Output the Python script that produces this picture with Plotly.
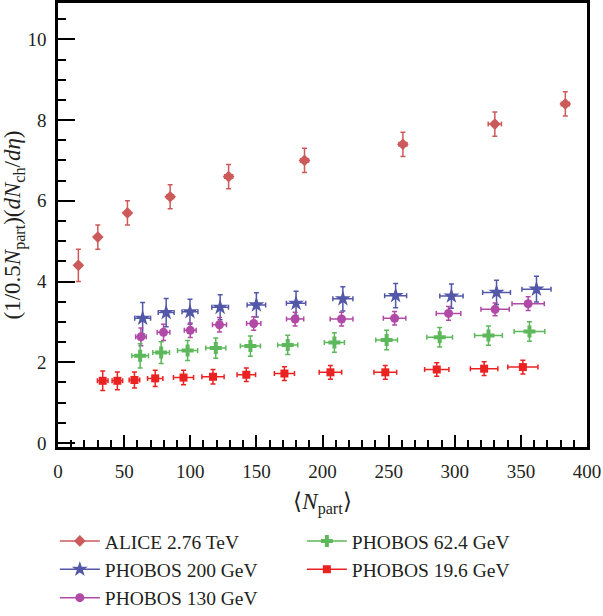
import plotly.graph_objects as go

# ---------------- data ----------------
alice_x = [15.4, 30.1, 52.5, 84.8, 129.0, 186.4, 260.8, 330.3, 383.6]
alice_y = [4.4, 5.1, 5.7, 6.1, 6.6, 7.0, 7.4, 7.9, 8.4]
alice_xerr = [0.6, 1.3, 2.0, 2.6, 3.0, 3.0, 3.0, 5.0, 3.0]
alice_yerr = [0.4, 0.3, 0.3, 0.3, 0.3, 0.3, 0.3, 0.3, 0.3]

p200_x = [64.0, 81.8, 99.8, 122.6, 150.0, 180.0, 215.4, 255.3, 297.5, 331.6, 361.8]
p200_y = [3.09, 3.23, 3.25, 3.36, 3.42, 3.46, 3.57, 3.65, 3.64, 3.73, 3.81]
p200_xerr = [6.0, 6.0, 6.0, 6.3, 7.0, 7.3, 7.6, 8.3, 8.8, 10.5, 11.0]
p200_yerr = [0.39, 0.35, 0.31, 0.31, 0.30, 0.30, 0.30, 0.30, 0.30, 0.30, 0.32]

p130_x = [62.7, 79.8, 100.0, 122.1, 148.0, 179.3, 214.4, 254.5, 295.3, 330.5, 355.5]
p130_y = [2.63, 2.74, 2.79, 2.93, 2.96, 3.07, 3.07, 3.09, 3.21, 3.31, 3.45]
p130_xerr = [4.0, 4.8, 4.5, 5.3, 5.4, 6.5, 8.6, 8.5, 9.3, 10.7, 12.2]
p130_yerr = [0.22, 0.20, 0.18, 0.18, 0.17, 0.17, 0.17, 0.17, 0.17, 0.16, 0.17]

p62_x = [62.1, 78.0, 98.0, 119.3, 145.5, 173.7, 209.0, 248.5, 288.6, 325.5, 356.5]
p62_y = [2.16, 2.24, 2.29, 2.35, 2.40, 2.43, 2.49, 2.55, 2.62, 2.66, 2.76]
p62_xerr = [6.3, 6.3, 7.6, 7.6, 7.6, 7.6, 7.6, 8.2, 9.7, 10.5, 11.6]
p62_yerr = [0.30, 0.27, 0.25, 0.25, 0.25, 0.24, 0.24, 0.24, 0.24, 0.24, 0.24]

p19_x = [33.8, 44.9, 57.8, 73.5, 94.9, 117.2, 142.4, 171.2, 206.0, 247.5, 286.4, 322.2, 351.5]
p19_y = [1.54, 1.54, 1.56, 1.60, 1.62, 1.64, 1.69, 1.72, 1.75, 1.75, 1.82, 1.84, 1.88]
p19_xerr = [4.0, 4.0, 4.0, 5.8, 7.6, 8.4, 7.0, 7.6, 8.5, 8.6, 9.2, 10.4, 11.4]
p19_yerr = [0.24, 0.22, 0.20, 0.20, 0.18, 0.18, 0.17, 0.17, 0.17, 0.17, 0.17, 0.17, 0.17]

x_ticks = [0, 50, 100, 150, 200, 250, 300, 350, 400]
y_ticks = [0, 2, 4, 6, 8, 10]

series = [
    # name, x, y, xerr, yerr, color, symbol, size, legend
    ("ALICE 2.76 TeV", alice_x, alice_y, alice_xerr, alice_yerr, "#cd5a5a", "diamond", 9, "legend"),
    ("PHOBOS 200 GeV", p200_x, p200_y, p200_xerr, p200_yerr, "#5257a8", "star", 12, "legend"),
    ("PHOBOS 130 GeV", p130_x, p130_y, p130_xerr, p130_yerr, "#b04aa6", "circle", 9, "legend"),
    ("PHOBOS 62.4 GeV", p62_x, p62_y, p62_xerr, p62_yerr, "#5cb85a", "cross", 10, "legend2"),
    ("PHOBOS 19.6 GeV", p19_x, p19_y, p19_xerr, p19_yerr, "#ea2222", "square", 8, "legend2"),
]

FONT = "Liberation Serif"
TXT = "#231f20"

fig = go.Figure()
for name, xs, ys, xe, ye, col, sym, sz, leg in series:
    fig.add_trace(go.Scatter(
        x=xs, y=ys, mode="markers", name=name, showlegend=False,
        marker=dict(symbol=sym, size=sz, color=col, line=dict(width=0)),
        error_x=dict(type="data", array=xe, visible=True, color=col, thickness=1.5, width=2.5),
        error_y=dict(type="data", array=ye, visible=True, color=col, thickness=1.5, width=2.5),
    ))
    fig.add_trace(go.Scatter(
        x=[None], y=[None], mode="lines+markers", name=name, legend=leg,
        marker=dict(symbol=sym, size=sz, color=col, line=dict(width=0)),
        line=dict(color=col, width=1.5),
    ))

fig.update_layout(
    width=603, height=616,
    margin=dict(l=58, r=16, t=3, b=169, autoexpand=False),
    paper_bgcolor="white", plot_bgcolor="white",
    font=dict(family=FONT, size=19, color=TXT),
    showlegend=True,
    legend=dict(x=-0.006, y=0.153, xref="paper", yref="container",
                xanchor="left", yanchor="top", orientation="v",
                font=dict(family=FONT, size=19.5, color=TXT), bgcolor="rgba(0,0,0,0)",
                tracegroupgap=0, itemwidth=40),
    legend2=dict(x=0.461, y=0.153, xref="paper", yref="container",
                 xanchor="left", yanchor="top", orientation="v",
                 font=dict(family=FONT, size=19.5, color=TXT), bgcolor="rgba(0,0,0,0)",
                 tracegroupgap=0, itemwidth=40),
    xaxis=dict(
        range=[0, 400], tickvals=x_ticks, ticktext=[str(v) for v in x_ticks],
        ticks="inside", ticklen=12, tickwidth=1.5, tickcolor="black",
        showline=True, linecolor="black", linewidth=2.5, mirror=True,
        showgrid=False, zeroline=False, automargin=False,
        tickfont=dict(family=FONT, size=19, color=TXT), ticklabelstandoff=5,
        minor=dict(dtick=10, ticks="inside", ticklen=7, tickwidth=1.5, tickcolor="black", showgrid=False),
        title=dict(text="⟨<i>N</i><sub>part</sub>⟩", font=dict(family=FONT, size=23, color=TXT), standoff=13),
    ),
    yaxis=dict(
        range=[-0.1, 10.9], tickvals=y_ticks, ticktext=[str(v) for v in y_ticks],
        ticks="inside", ticklen=17, tickwidth=1.5, tickcolor="black",
        showline=True, linecolor="black", linewidth=2.5, mirror=True,
        showgrid=False, zeroline=False, automargin=False,
        tickfont=dict(family=FONT, size=19, color=TXT), ticklabelstandoff=5,
        minor=dict(dtick=0.5, tick0=0, ticks="inside", ticklen=8, tickwidth=1.5, tickcolor="black", showgrid=False),
        title=dict(text="(1/0.5<i>N</i><sub>part</sub>)(<i>dN</i><sub>ch</sub>/<i>dη</i>)",
                   font=dict(family=FONT, size=23, color=TXT), standoff=4),
    ),
)

fig.write_html("out.html")
